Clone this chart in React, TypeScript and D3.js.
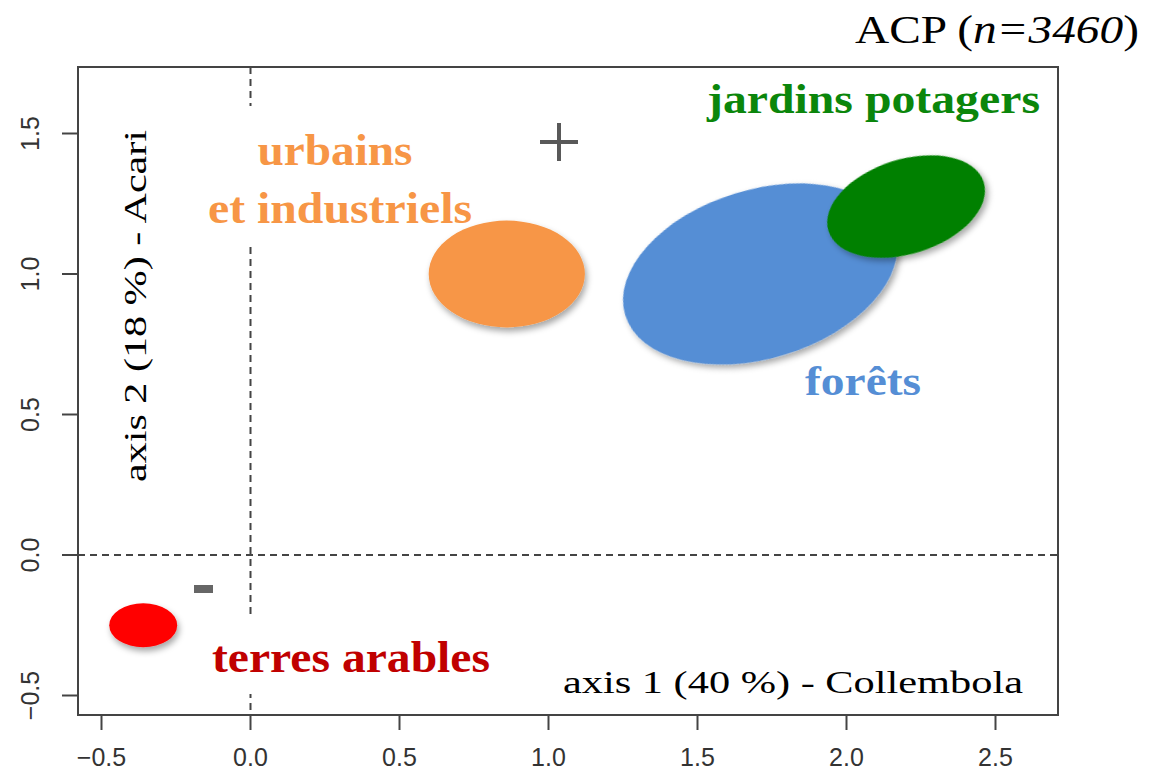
import React from "react";
import * as d3 from "d3";

const W = 1159;
const H = 774;

const xTicks = [-0.5, 0.0, 0.5, 1.0, 1.5, 2.0, 2.5];
const yTicks = [-0.5, 0.0, 0.5, 1.0, 1.5];

// groups: centre (x, y), semi-axes in data units, rotation (deg, screen)
const groupNames = ["terres arables", "urbains et industriels", "forêts", "jardins potagers"];
const groupCx = [-0.36, 0.86, 1.71, 2.2];
const groupCy = [-0.25, 1.0, 1.0, 1.24];
const groupRx = [0.114, 0.262, 0.473, 0.273];
const groupRy = [0.078, 0.19, 0.3, 0.168];
const groupAngle = [0, 0, -17, -17.5];
const groupFill = ["#FF0000", "#F79646", "#558ED5", "#008000"];

export default function App() {
  const x = d3.scaleLinear().domain([-0.5, 2.5]).range([101.5, 995.5]);
  const y = d3.scaleLinear().domain([-0.5, 1.5]).range([695.5, 133.5]);

  const left = 78, right = 1058, top = 67, bottom = 715;
  const axisCol = "#444";
  const tickCol = "#333";
  const serif = { fontFamily: "Liberation Serif, Tinos, Times New Roman, serif" };
  const sans = { fontFamily: "Liberation Sans, Arimo, Arial, sans-serif" };

  const drawOrder = [0, 1, 2, 3];

  return (
    <svg width={W} height={H} style={{ position: "absolute", left: 0, top: 0, background: "#fff" }}>
      <defs>
        <filter id="sh" x="-30%" y="-30%" width="160%" height="160%">
          <feDropShadow dx="2" dy="4" stdDeviation="3" floodColor="#000" floodOpacity="0.35" />
        </filter>
      </defs>
      <rect x={0} y={0} width={W} height={H} fill="#fff" />

      {/* dashed reference lines */}
      <line x1={left} x2={right} y1={y(0)} y2={y(0)} stroke={axisCol} strokeWidth={2} strokeDasharray="7,5" />
      <line x1={x(0)} x2={x(0)} y1={top} y2={bottom} stroke={axisCol} strokeWidth={2} strokeDasharray="7,5" />

      {/* label backgrounds masking the vertical dashed line */}
      <rect x={200} y={106} width={280} height={138} fill="#fff" />
      <rect x={205} y={616} width={292} height={78} fill="#fff" />

      {/* ellipses */}
      {drawOrder.map((i) => {
        const cx = x(groupCx[i]);
        const cy = y(groupCy[i]);
        const rx = x(groupCx[i] + groupRx[i]) - cx;
        const ry = cy - y(groupCy[i] + groupRy[i]);
        return (
          <ellipse
            key={groupNames[i]}
            cx={cx}
            cy={cy}
            rx={rx}
            ry={ry}
            fill={groupFill[i]}
            filter="url(#sh)"
            transform={`rotate(${groupAngle[i]} ${cx} ${cy})`}
          />
        );
      })}

      {/* group labels */}
      <text x={707} y={113} style={serif} fontWeight="bold" fontSize={42} fill="#0B860B" textLength={333} lengthAdjust="spacingAndGlyphs">jardins potagers</text>
      <text x={335} y={165} textAnchor="middle" style={serif} fontWeight="bold" fontSize={44} fill="#F79646" textLength={155} lengthAdjust="spacingAndGlyphs">urbains</text>
      <text x={340} y={223} textAnchor="middle" style={serif} fontWeight="bold" fontSize={44} fill="#F79646" textLength={264} lengthAdjust="spacingAndGlyphs">et industriels</text>
      <text x={805} y={395} style={serif} fontWeight="bold" fontSize={42} fill="#558ED5" textLength={116} lengthAdjust="spacingAndGlyphs">forêts</text>
      <text x={212} y={672} style={serif} fontWeight="bold" fontSize={44} fill="#C00000" textLength={278} lengthAdjust="spacingAndGlyphs">terres arables</text>

      {/* + and - signs */}
      <line x1={540} x2={578} y1={142} y2={142} stroke="#595959" strokeWidth={4} />
      <line x1={559} x2={559} y1={123} y2={161} stroke="#595959" strokeWidth={4} />
      <rect x={194} y={585} width={19} height={8} fill="#666" />

      {/* axis titles */}
      <text x={1023} y={693} textAnchor="end" style={serif} fontSize={32} fill="#000" textLength={460} lengthAdjust="spacingAndGlyphs">axis 1 (40 %) - Collembola</text>
      <text transform={`translate(146,306) rotate(-90)`} textAnchor="middle" style={serif} fontSize={32} fill="#000" textLength={352} lengthAdjust="spacingAndGlyphs">axis 2 (18 %) - Acari</text>
      <text x={1139} y={43} textAnchor="end" style={serif} fontSize={40} fill="#000" textLength={284} lengthAdjust="spacingAndGlyphs">
        ACP (<tspan fontStyle="italic">n=3460</tspan>)
      </text>

      {/* plot box */}
      <rect x={left} y={top} width={right - left} height={bottom - top} fill="none" stroke={axisCol} strokeWidth={2} />

      {/* x axis ticks */}
      {xTicks.map((t) => (
        <g key={"x" + t}>
          <line x1={x(t)} x2={x(t)} y1={bottom} y2={730} stroke={axisCol} strokeWidth={2} />
          <text x={x(t)} y={766} textAnchor="middle" style={sans} fontSize={25} fill={tickCol}>
            {d3.format(".1f")(t)}
          </text>
        </g>
      ))}

      {/* y axis ticks */}
      {yTicks.map((t) => (
        <g key={"y" + t}>
          <line x1={62} x2={left} y1={y(t)} y2={y(t)} stroke={axisCol} strokeWidth={2} />
          <text transform={`translate(39,${y(t)}) rotate(-90)`} textAnchor="middle" style={sans} fontSize={25} fill={tickCol}>
            {d3.format(".1f")(t)}
          </text>
        </g>
      ))}
    </svg>
  );
}
